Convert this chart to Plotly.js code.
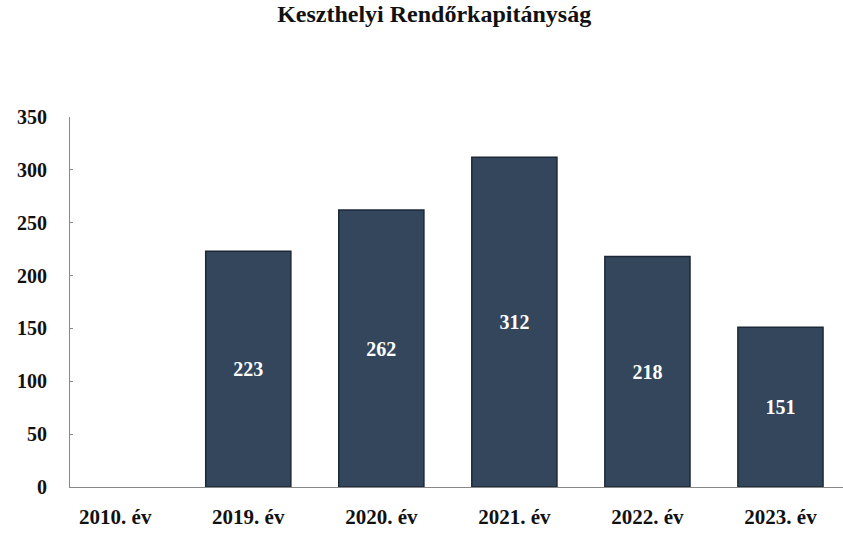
<!DOCTYPE html>
<html><head><meta charset="utf-8">
<script src="https://cdn.plot.ly/plotly-3.0.1.min.js"></script>
<style>body{margin:0;background:#fff}#c{width:843px;height:533px}</style>
</head><body><div id="c"></div>
<script>
const categories = ["2010. év","2019. év","2020. év","2021. év","2022. év","2023. év"];
const values = [null, 223, 262, 312, 218, 151];
const labels = ["", "223", "262", "312", "218", "151"];
const yTicks = [0,50,100,150,200,250,300,350];

const font = {family: "Liberation Serif, Times New Roman, serif", color: "#111"};

Plotly.newPlot("c", [{
  type: "bar",
  x: categories,
  y: values,
  text: labels,
  textposition: "inside",
  insidetextanchor: "middle",
  textangle: 0,
  textfont: {family: font.family, size: 20, color: "#ffffff", weight: "bold"},
  marker: {color: "#33465c", line: {color: "#1c2838", width: 1.5}},
  width: 0.64,
  hoverinfo: "x+y"
}], {
  width: 843, height: 533,
  margin: {l: 70, r: 0, t: 117, b: 46},
  paper_bgcolor: "#ffffff", plot_bgcolor: "#ffffff",
  showlegend: false,
  title: {text: "<b>Keszthelyi Rendőrkapitányság</b>", x: 0.515, xref: "container", xanchor: "center",
          y: 0.99, yref: "container", yanchor: "top",
          font: {family: font.family, size: 24, color: "#111"}},
  xaxis: {
    type: "category", range: [-0.34, 5.47],
    showline: true, linecolor: "#888", linewidth: 1,
    ticks: "", showgrid: false, zeroline: false,
    tickfont: {family: font.family, size: 21, color: "#111", weight: "bold"},
    ticklabelstandoff: 11
  },
  yaxis: {
    range: [0, 350], tickvals: yTicks,
    showline: true, linecolor: "#888", linewidth: 1,
    ticks: "inside", ticklen: 3, tickcolor: "#888",
    showgrid: false, zeroline: false,
    tickfont: {family: font.family, size: 20, color: "#111", weight: "bold"},
    ticklabelstandoff: 18
  }
}, {staticPlot: true});
</script></body></html>
